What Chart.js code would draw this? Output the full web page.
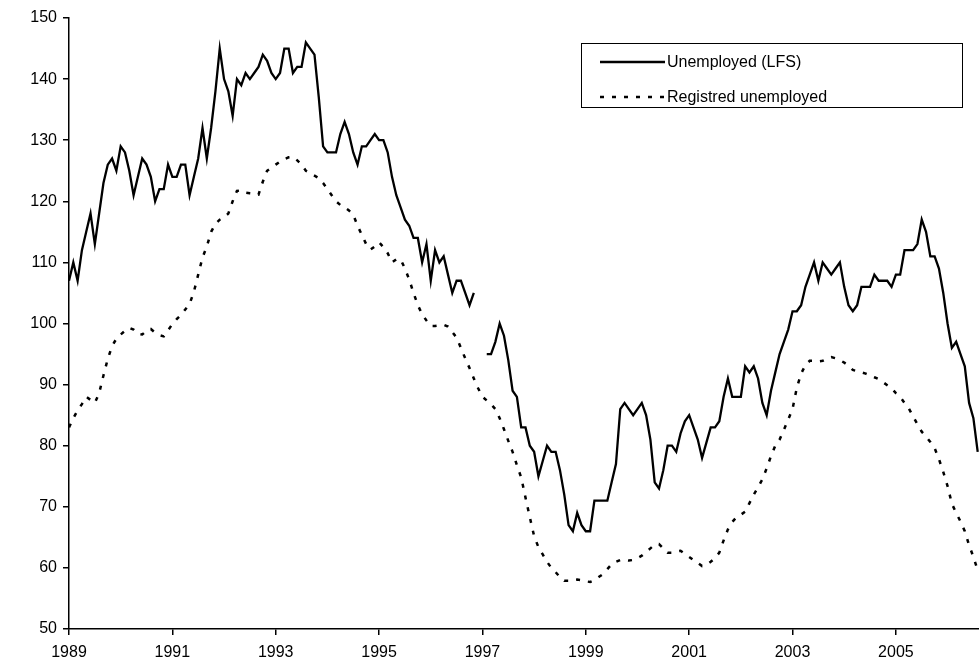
<!DOCTYPE html>
<html>
<head>
<meta charset="utf-8">
<script src="https://cdn.jsdelivr.net/npm/chart.js@4.4.1/dist/chart.umd.min.js"></script>
<style>
  html, body { margin: 0; padding: 0; background: #fff; }
</style>
</head>
<body>
<canvas id="chart" width="979" height="665"></canvas>
<script>
// monthly values, Jan 1989 .. Aug 2006 (thousands)
const START_YEAR = 1989;
const YEAR_TICKS = [1989, 1991, 1993, 1995, 1997, 1999, 2001, 2003, 2005];
const Y_MIN = 50, Y_MAX = 150, Y_STEP = 10;

const LABEL_LFS = 'Unemployed (LFS)';
const LABEL_REG = 'Registred unemployed';

const lfs = [
  107, 110, 107, 112, 115, 118, 113, 118, 123, 126, 127, 125,   // 1989
  129, 128, 125, 121, 124, 127, 126, 124, 120, 122, 122, 126,   // 1990
  124, 124, 126, 126, 121, 124, 127, 132, 127, 132, 138, 145,   // 1991
  140, 138, 134, 140, 139, 141, 140, 141, 142, 144, 143, 141,   // 1992
  140, 141, 145, 145, 141, 142, 142, 146, 145, 144, 137, 129,   // 1993
  128, 128, 128, 131, 133, 131, 128, 126, 129, 129, 130, 131,   // 1994
  130, 130, 128, 124, 121, 119, 117, 116, 114, 114, 110, 113,   // 1995
  107, 112, 110, 111, 108, 105, 107, 107, 105, 103, 105, null,  // 1996
  null, 95, 95, 97, 100, 98, 94, 89, 88, 83, 83, 80,            // 1997
  79, 75, 77.5, 80, 79, 79, 76, 72, 67, 66, 69, 67,             // 1998
  66, 66, 71, 71, 71, 71, 74, 77, 86, 87, 86, 85,               // 1999
  86, 87, 85, 81, 74, 73, 76, 80, 80, 79, 82, 84,               // 2000
  85, 83, 81, 78, 80.5, 83, 83, 84, 88, 91, 88, 88,             // 2001
  88, 93, 92, 93, 91, 87, 85, 89, 92, 95, 97, 99,               // 2002
  102, 102, 103, 106, 108, 110, 107, 110, 109, 108, 109, 110,   // 2003
  106, 103, 102, 103, 106, 106, 106, 108, 107, 107, 107, 106,   // 2004
  108, 108, 112, 112, 112, 113, 117, 115, 111, 111, 109, 105,   // 2005
  100, 96, 97, 95, 93, 87, 84.5, 79                             // 2006
];

const registered = [
  83, 84.5, 85.8, 86.8, 88, 87.5, 87, 88.6, 91.5, 94.2, 96.3, 97.5,                 // 1989
  98.2, 98.8, 99.3, 99, 98.3, 98.2, 98.8, 99.1, 98.5, 98.1, 97.9, 98.9,             // 1990
  99.9, 100.7, 101.4, 102.3, 103.2, 105.2, 108, 110.8, 112.6, 115, 116.3, 117,      // 1991
  117.4, 118, 120, 121.7, 121.8, 121.4, 121.3, 121.2, 121.1, 123.2, 125, 125.5,     // 1992
  126, 126.5, 126.9, 127.2, 127.3, 126.7, 126, 125, 124.6, 124.2, 123.8, 123,       // 1993
  122, 121, 120, 119.4, 119, 118.5, 117.8, 116, 114.5, 113, 112.1, 112.6,           // 1994
  113.3, 112.5, 111.5, 110, 110.5, 110.5, 109, 107.2, 105, 103, 101.5, 100.5,       // 1995
  99.6, 99.6, 99.7, 99.8, 99.5, 98.6, 97.7, 96, 94.3, 92.7, 91, 89.4,               // 1996
  88, 87.4, 86.8, 86, 84.5, 82.7, 80.8, 79, 76.8, 74.8, 71.5, 68.3,                 // 1997
  65.2, 63.4, 62.2, 61, 60, 59.3, 58.5, 57.9, 57.9, 58, 58.1, 58,                   // 1998
  57.8, 57.7, 58, 58.5, 59, 59.8, 60.6, 61, 61.3, 61.3, 61.2, 61.3,                 // 1999
  61.6, 62, 62.6, 63.2, 63.8, 63.9, 63.2, 62.5, 62.5, 62.7, 62.8, 62.3,             // 2000
  61.8, 61.3, 60.8, 60.3, 60.5, 61, 61.6, 62.5, 64.5, 66.3, 67.5, 68.3,             // 2001
  68.7, 69.2, 70.6, 72, 73.2, 74.5, 76.3, 78.3, 80, 81, 82.6, 84.3,                 // 2002
  86, 89.5, 91.8, 93.2, 93.9, 93.9, 93.8, 93.9, 94.2, 94.5, 94.3, 94,               // 2003
  93.6, 93.1, 92.4, 92.2, 92, 91.8, 91.5, 91.2, 90.9, 90.4, 89.9, 89.4,             // 2004
  88.6, 88, 87, 86.1, 84.8, 83.5, 82.3, 81.5, 80.6, 79.6, 77.8, 75.7,               // 2005
  73.4, 70.5, 69, 67.6, 66, 63.7, 61.8, 59.6                                        // 2006
];

// month index -> fractional year on a linear axis
const toPoints = arr => arr.map((v, i) => ({ x: START_YEAR + i / 12, y: v }));

const FONT = { family: '"Liberation Sans", Arial, sans-serif', size: 16 };
const DOT = [4, 8];

// white page + boxed legend inside the plot, like the original
const boxLegend = {
    id: 'boxLegend',
    beforeDraw(chart) {
        const c = chart.ctx;
        c.save();
        c.fillStyle = '#fff';
        c.fillRect(0, 0, chart.width, chart.height);
        c.restore();
    },
    afterDraw(chart) {
        const c = chart.ctx;
        c.save();
        c.strokeStyle = '#000';
        c.lineWidth = 1;
        c.strokeRect(581.5, 43.5, 381, 64);

        const rows = [
            { text: LABEL_LFS, y: 62, dash: [], width: 2.3 },
            { text: LABEL_REG, y: 97, dash: DOT, width: 2.5 }
        ];
        c.font = `${FONT.size}px ${FONT.family}`;
        c.textBaseline = 'middle';
        c.fillStyle = '#000';
        for (const r of rows) {
            c.beginPath();
            c.setLineDash(r.dash);
            c.lineWidth = r.width;
            c.moveTo(600, r.y);
            c.lineTo(665, r.y);
            c.stroke();
            c.setLineDash([]);
            c.fillText(r.text, 667, r.y + 1);
        }
        c.restore();
    }
};

new Chart(document.getElementById('chart'), {
    type: 'line',
    data: {
        datasets: [
            {
                label: LABEL_LFS,
                data: toPoints(lfs),
                borderColor: '#000',
                borderWidth: 2.3,
                pointRadius: 0,
                spanGaps: false,
                tension: 0
            },
            {
                label: LABEL_REG,
                data: toPoints(registered),
                borderColor: '#000',
                borderWidth: 2.5,
                borderDash: DOT,
                pointRadius: 0,
                tension: 0
            }
        ]
    },
    options: {
        responsive: false,
        animation: false,
        layout: { padding: { top: 18, right: 0, bottom: 0, left: 0 } },
        plugins: {
            legend: { display: false },
            tooltip: { enabled: false }
        },
        scales: {
            x: {
                type: 'linear',
                min: START_YEAR,
                max: START_YEAR + 211.3 / 12,
                afterBuildTicks: s => { s.ticks = YEAR_TICKS.map(v => ({ value: v })); },
                afterFit: s => { s.height = 36; },
                ticks: {
                    callback: v => String(v),
                    font: FONT,
                    color: '#000',
                    padding: 8,
                    maxRotation: 0,
                    autoSkip: false
                },
                grid: { drawOnChartArea: false, drawTicks: true, tickLength: 6, color: '#000', lineWidth: 1.5 },
                border: { display: true, color: '#000', width: 1.5 }
            },
            y: {
                min: Y_MIN,
                max: Y_MAX,
                afterFit: s => { s.width = 69; },
                ticks: { stepSize: Y_STEP, font: FONT, color: '#000', padding: 6 },
                grid: { drawOnChartArea: false, drawTicks: true, tickLength: 6, color: '#000', lineWidth: 1.5 },
                border: { display: true, color: '#000', width: 1.5 }
            }
        }
    },
    plugins: [boxLegend]
});
</script>
</body>
</html>
